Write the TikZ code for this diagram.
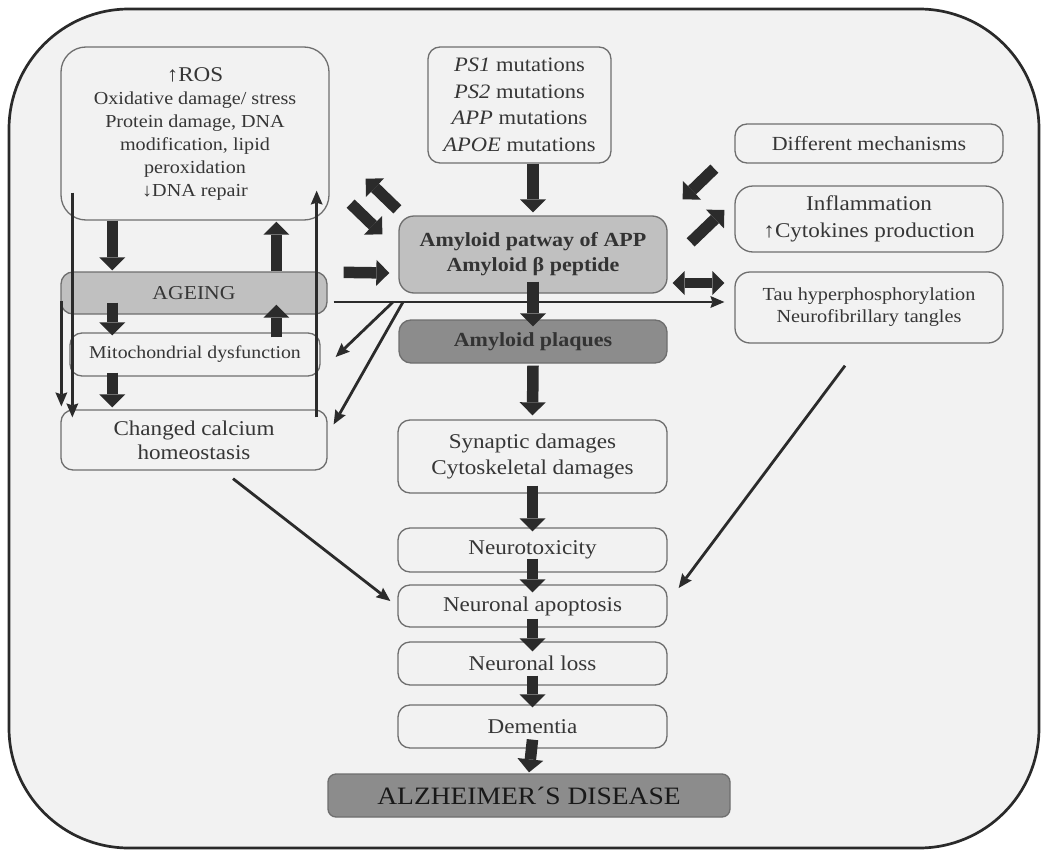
\documentclass[tikz,border=0pt]{standalone}
\usepackage{fontspec}
\setmainfont{Liberation Serif}[FakeStretch=1.1]
\usetikzlibrary{arrows.meta,calc}
\definecolor{bgc}{HTML}{F2F2F2}
\definecolor{framec}{HTML}{2A2A2A}
\definecolor{boxc}{HTML}{6E6E6E}
\definecolor{txtc}{HTML}{363636}
\definecolor{arrc}{HTML}{2B2B2B}
\definecolor{lightfill}{HTML}{C0C0C0}
\definecolor{darkfill}{HTML}{8C8C8C}
\begin{document}
\begin{tikzpicture}[x=1pt,y=-1pt,
  box/.style={draw=boxc, line width=1.3pt, rounded corners=12pt, align=center, inner sep=0pt, text=txtc},
  wide/.style={minimum width=268pt},
  blk/.style={draw=arrc, line width=11.5pt, -{Triangle[width=26pt,length=13pt,line width=0pt]}},
  blkd/.style={draw=arrc, line width=10pt, {Triangle[width=24pt,length=12pt,line width=0pt]}-{Triangle[width=24pt,length=12pt,line width=0pt]}},
  thin/.style={draw=arrc, line width=2.8pt, -{Stealth[length=14pt,width=12pt,inset=2pt,line width=0pt]}}
]
\useasboundingbox (0,0) rectangle (1041,851);
\fill[white] (0,0) rectangle (1041,851);
\draw[line width=2.7pt, draw=framec, fill=bgc, rounded corners=120pt] (9,9) rectangle (1039,848);

% left column
\node[box, rounded corners=25pt, minimum width=268pt, minimum height=173pt, font=\fontsize{18.3}{23}\selectfont] (ros) at (195,133.5)
  {{\fontsize{21}{23}\selectfont ↑ROS}\\Oxidative damage/ stress\\Protein damage, DNA\\modification, lipid\\peroxidation\\↓DNA repair};
\node[box, fill=lightfill, minimum width=266pt, minimum height=42pt, font=\fontsize{19.7}{23}\selectfont] (age) at (194,293) {AGEING};
\node[box, minimum width=250pt, minimum height=43pt, font=\fontsize{18}{22}\selectfont] (mito) at (195,354.5) {Mitochondrial dysfunction};
\node[box, minimum width=266pt, minimum height=60pt, font=\fontsize{21}{24}\selectfont] (calc) at (194,440) {Changed calcium\\homeostasis};

% middle column
\node[box, minimum width=183pt, minimum height=116pt, font=\fontsize{20.5}{26.5}\selectfont] (ps) at (519.5,105)
  {\textit{PS1} mutations\\\textit{PS2} mutations\\\textit{APP} mutations\\\textit{APOE} mutations};
\node[box, wide, fill=lightfill, rounded corners=15pt, minimum height=77pt, font=\bfseries\fontsize{20}{25}\selectfont, text=black!80] (amy) at (533,254.5)
  {Amyloid patway of APP\\Amyloid β peptide};
\node[box, wide, fill=darkfill, minimum height=43pt, font=\bfseries\fontsize{20}{24}\selectfont, text=black!80] (plq) at (533,341.5) {Amyloid plaques};
\node[box, minimum width=269pt, minimum height=73pt, font=\fontsize{21}{26}\selectfont] (syn) at (532.5,456.5) {Synaptic damages\\Cytoskeletal damages};
\node[box, minimum width=269pt, minimum height=44pt, font=\fontsize{21}{24}\selectfont] (ntox) at (532.5,550) {Neurotoxicity};
\node[box, minimum width=269pt, minimum height=42pt, font=\fontsize{21}{24}\selectfont] (apop) at (532.5,606) {Neuronal apoptosis};
\node[box, minimum width=269pt, minimum height=43pt, font=\fontsize{21}{24}\selectfont] (loss) at (532.5,663.5) {Neuronal loss};
\node[box, minimum width=269pt, minimum height=43pt, font=\fontsize{21}{24}\selectfont] (dem) at (532.5,726.5) {Dementia};
\node[box, fill=darkfill, rounded corners=8pt, minimum width=402pt, minimum height=43pt, font=\fontsize{25}{28}\selectfont, text=black!90] (ad) at (529,795.5) {ALZHEIMER´S DISEASE};

% right column
\node[box, wide, minimum height=39pt, font=\fontsize{20}{24}\selectfont] (diff) at (869,143.5) {Different mechanisms};
\node[box, wide, rounded corners=18pt, minimum height=66pt, font=\fontsize{21}{27}\selectfont] (infl) at (869,219) {Inflammation\\↑Cytokines production};
\node[box, wide, rounded corners=15pt, minimum height=71pt, font=\fontsize{18.4}{22}\selectfont] (tau) at (869,307.5) {Tau hyperphosphorylation\\Neurofibrillary tangles};

% block arrows, left column
\draw[blk] ($(ros.south west)+(52,0)$) -- ($(age.north west)+(52,-1)$);
\draw[blk] ($(age.north west)+(216,0)$) -- ($(ros.south west)+(216,1)$);
\draw[blk] ($(age.south west)+(52,-12)$) -- ($(mito.north west)+(43,3)$);
\draw[blk] ($(mito.north west)+(207,5)$) -- ($(age.south west)+(216,-10)$);
\draw[blk] ($(mito.south west)+(43,-4)$) -- ($(calc.north west)+(52,-2)$);

% block arrows, middle column
\draw[blk] (ps.south -| amy.north) -- ($(amy.north)+(0,-3)$);
\draw[blk] ($(amy.south)+(0,-12)$) -- ($(plq.north)+(0,7)$);
\draw[blk] ($(plq.south)+(0,2)$) -- ($(syn.north)+(0,-4)$);
\draw[blk] ($(syn.south)+(0,-8)$) -- ($(ntox.north)+(0,4)$);
\draw[blk] ($(ntox.south)+(0,-14)$) -- ($(apop.north)+(0,8)$);
\draw[blk] ($(apop.south)+(0,-9)$) -- ($(loss.north)+(0,10)$);
\draw[blk] ($(loss.south)+(0,-10)$) -- ($(dem.north)+(0,3)$);
\draw[blk] ($(dem.south)+(0,-9)$) -- ($(ad.north)+(0,-1)$);

% block arrows around amyloid box
\draw[blk] ($(age.north east)+(16,1)$) -- ($(amy.west)+(-9,18.5)$);
\draw[blk] ($(amy.north west)+(-1,-6)$) -- ($(ros.south east)+(36,-42)$);
\draw[blk] ($(ros.south east)+(21,-17)$) -- ($(amy.north west)+(-16,19)$);
\draw[blk] ($(diff.south west)+(-20,5)$) -- ($(amy.north east)+(15,-16)$);
\draw[blk] ($(amy.north east)+(23,27)$) -- ($(infl.west)+(-10,-9)$);
\draw[blkd] ($(amy.east)+(5,28.5)$) -- ($(tau.west)+(-10,-24.5)$);

% thin arrows
\draw[thin] ($(ros.south west)+(12,-28)$) -- ($(calc.north west)+(12,8)$);
\draw[thin] ($(age.south west)+(1,-14)$) -- ($(calc.north west)+(1,-3)$);
\draw[thin] ($(calc.north east)+(-11,8)$) -- ($(ros.south east)+(-13,-30)$);
\draw[thin] ($(age.east)+(6,9)$) -- ($(tau.west)+(-10,-5.5)$);
\coordinate (br1) at (393,302);
\coordinate (br2) at (403,302);
\draw[thin] (br1) -- ($(mito.east)+(15,2.5)$);
\draw[thin] (br2) -- ($(calc.north east)+(6,15)$);
\draw[thin] ($(calc.south)+(39,8)$) -- ($(apop.west)+(-7,-5)$);
\draw[thin] ($(tau.south)+(-24,22)$) -- ($(apop.east)+(11,-18)$);
\end{tikzpicture}
\end{document}
